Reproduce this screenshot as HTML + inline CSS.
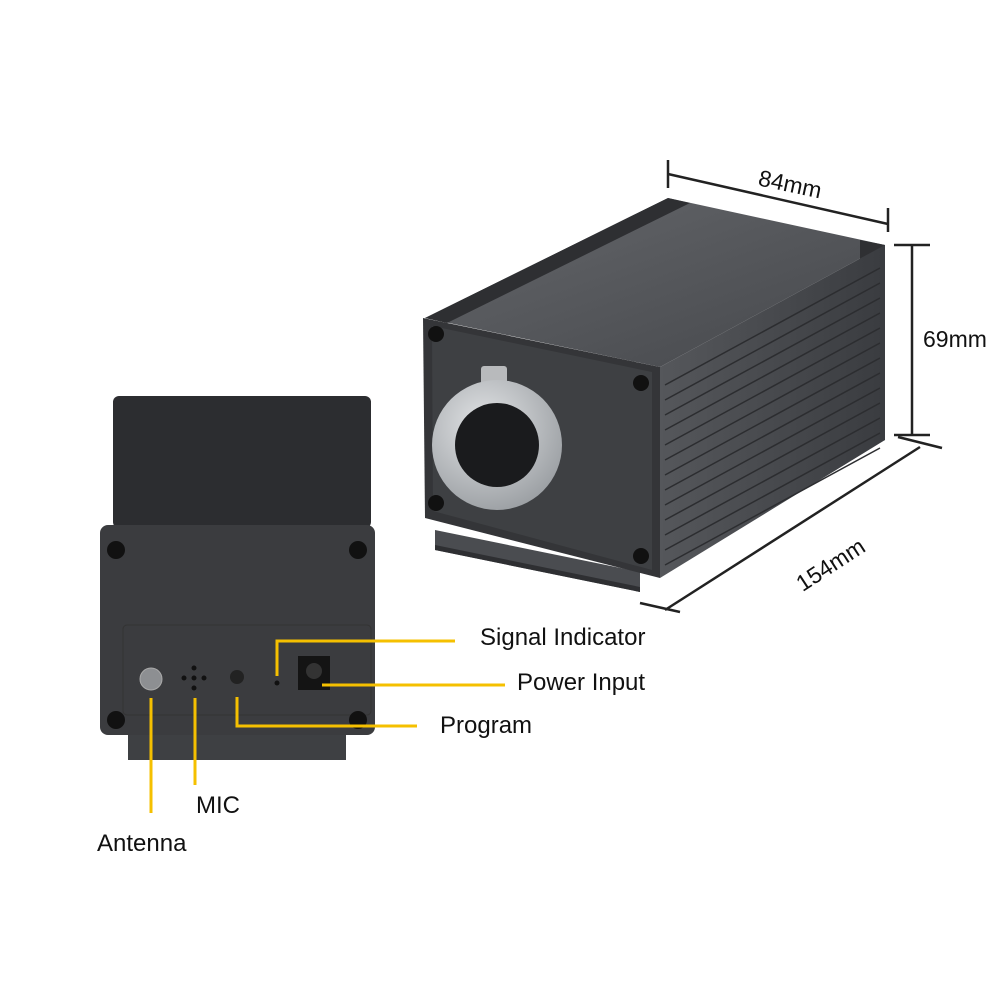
<!DOCTYPE html>
<html><head><meta charset="utf-8"><style>
html,body{margin:0;padding:0;background:#fff;}
svg{display:block}
text{font-family:"Liberation Sans",sans-serif;fill:#111;}
</style></head><body>
<svg width="1000" height="1000" viewBox="0 0 1000 1000" xmlns="http://www.w3.org/2000/svg">
<defs>
<linearGradient id="top" x1="0" y1="0" x2="1" y2="1"><stop offset="0" stop-color="#65676b"/><stop offset="1" stop-color="#45474b"/></linearGradient>
<linearGradient id="side" x1="0" y1="0" x2="1" y2="0"><stop offset="0" stop-color="#55575b"/><stop offset="1" stop-color="#3a3c40"/></linearGradient>
<radialGradient id="ring" cx="0.4" cy="0.35" r="0.7"><stop offset="0" stop-color="#e2e4e6"/><stop offset="1" stop-color="#9a9ea2"/></radialGradient>
</defs>

<!-- Right device -->
<polygon points="435,530 640,572 640,592 435,550" fill="#4a4c50"/>
<polygon points="435,545 640,587 640,592 435,550" fill="#2e2f32"/>
<polygon points="425,318 668,198 885,245 660,367" fill="url(#top)"/>
<polygon points="425,318 668,198 690,203 447,323" fill="#2e2f32"/>
<polygon points="860,240 885,245 885,440 860,450" fill="#2f3033"/>
<polygon points="660,367 885,245 885,440 660,578" fill="url(#side)"/>
<g stroke="#2c2d30" stroke-width="1.5">
<line x1="665" y1="385" x2="880" y2="268"/><line x1="665" y1="400" x2="880" y2="283"/><line x1="665" y1="415" x2="880" y2="298"/><line x1="665" y1="430" x2="880" y2="313"/><line x1="665" y1="445" x2="880" y2="328"/><line x1="665" y1="460" x2="880" y2="343"/><line x1="665" y1="475" x2="880" y2="358"/><line x1="665" y1="490" x2="880" y2="373"/><line x1="665" y1="505" x2="880" y2="388"/><line x1="665" y1="520" x2="880" y2="403"/><line x1="665" y1="535" x2="880" y2="418"/><line x1="665" y1="550" x2="880" y2="433"/><line x1="665" y1="565" x2="880" y2="448"/>
</g>
<polygon points="423,318 660,367 660,578 425,518" fill="#343538"/>
<polygon points="432,326 652,372 652,570 433,511" fill="#3e4043"/>
<circle cx="436" cy="334" r="8" fill="#111"/><circle cx="641" cy="383" r="8" fill="#111"/>
<circle cx="436" cy="503" r="8" fill="#111"/><circle cx="641" cy="556" r="8" fill="#111"/>
<rect x="481" y="366" width="26" height="24" rx="3" fill="#b8babc"/>
<circle cx="497" cy="445" r="65" fill="url(#ring)"/>
<circle cx="497" cy="445" r="42" fill="#1a1b1d"/>

<!-- Dimensions -->
<g stroke="#222" stroke-width="2.5" fill="none">
<line x1="668" y1="174" x2="888" y2="224"/><line x1="668" y1="160" x2="668" y2="188"/><line x1="888" y1="208" x2="888" y2="232"/>
<line x1="912" y1="245" x2="912" y2="435"/><line x1="894" y1="245" x2="930" y2="245"/><line x1="894" y1="435" x2="930" y2="435"/>
<line x1="665" y1="610" x2="920" y2="447"/><line x1="640" y1="603" x2="680" y2="612"/><line x1="898" y1="437" x2="942" y2="448"/>
</g>
<text x="758" y="192" font-size="23" transform="rotate(12 790 185)">84mm</text>
<text x="923" y="347" font-size="23">69mm</text>
<text x="780" y="580" font-size="23" transform="rotate(-33 812 548)">154mm</text>

<!-- Left device -->
<rect x="128" y="735" width="218" height="25" fill="#3e4043"/>
<rect x="113" y="396" width="258" height="132" rx="6" fill="#2c2d30"/>
<rect x="100" y="525" width="275" height="210" rx="8" fill="#3b3c3f"/>
<rect x="123" y="625" width="248" height="90" rx="4" fill="none" stroke="#333" stroke-width="1"/>
<circle cx="116" cy="550" r="9" fill="#111"/><circle cx="358" cy="550" r="9" fill="#111"/>
<circle cx="116" cy="720" r="9" fill="#111"/><circle cx="358" cy="720" r="9" fill="#111"/>
<circle cx="151" cy="679" r="11" fill="#8d8f92" stroke="#aaa"/>
<circle cx="194" cy="668" r="2.5" fill="#111"/><circle cx="184" cy="678" r="2.5" fill="#111"/><circle cx="194" cy="678" r="2.5" fill="#111"/><circle cx="204" cy="678" r="2.5" fill="#111"/><circle cx="194" cy="688" r="2.5" fill="#111"/>
<circle cx="237" cy="677" r="7" fill="#222"/>
<circle cx="277" cy="683" r="2.5" fill="#111"/>
<rect x="298" y="656" width="32" height="34" fill="#141414"/><circle cx="314" cy="671" r="8" fill="#333"/>

<!-- Yellow leaders -->
<g stroke="#f5c000" stroke-width="3" fill="none">
<polyline points="277,676 277,641 455,641"/>
<polyline points="322,685 505,685"/>
<polyline points="237,697 237,726 417,726"/>
<line x1="151" y1="698" x2="151" y2="813"/>
<line x1="195" y1="698" x2="195" y2="785"/>
</g>
<text x="480" y="645" font-size="24">Signal Indicator</text>
<text x="517" y="690" font-size="24">Power Input</text>
<text x="440" y="733" font-size="24">Program</text>
<text x="196" y="813" font-size="24">MIC</text>
<text x="97" y="851" font-size="24">Antenna</text>
</svg>
</body></html>
